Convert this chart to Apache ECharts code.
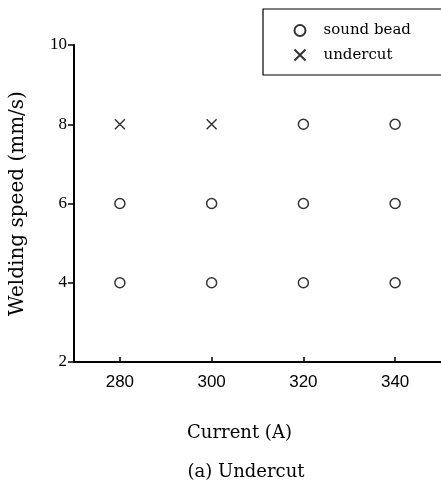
<!DOCTYPE html>
<html><head><meta charset="utf-8">
<script src="https://cdn.jsdelivr.net/npm/echarts@6/dist/echarts.min.js"></script>
<style>html,body{margin:0;padding:0;background:#fff}#c{width:441px;height:486px}</style>
</head><body><div id="c"></div>
<script>
const xTicks = [280, 300, 320, 340];
const yTicks = [2, 4, 6, 8, 10];
const soundBead = [[280,6],[280,4],[300,6],[300,4],[320,8],[320,6],[320,4],[340,8],[340,6],[340,4]];
const undercut = [[280,8],[300,8]];
const crossPath = 'path://M0,0L10,10M10,0L0,10';
const chart = echarts.init(document.getElementById('c'));
chart.setOption({
  backgroundColor: '#fff',
  animation: false,
  grid: {left: 74, right: 0, top: 45, bottom: 124, outerBoundsMode: 'none', containLabel: false},
  title: {text: '(a) Undercut', left: 241, textAlign: 'center', top: 458,
    textStyle: {fontFamily: 'DejaVu Serif', fontWeight: 'normal', fontSize: 18, color: '#000'}},
  legend: {
    orient: 'vertical', left: 263, top: 9,
    borderColor: '#000', borderWidth: 1.2, borderRadius: 0,
    padding: [14, 90, 12, 29], itemGap: 9, itemWidth: 11, itemHeight: 11,
    textStyle: {fontFamily: 'DejaVu Serif', fontSize: 15, color: '#000', padding: [0,0,0,13]},
    data: [{name: 'sound bead', icon: 'circle'}, {name: 'undercut', icon: crossPath}]
  },
  xAxis: {
    type: 'value', min: 270, max: 350, interval: 10,
    name: 'Current (A)', nameLocation: 'middle', nameGap: 62,
    nameTextStyle: {fontFamily: 'DejaVu Serif', fontSize: 18, color: '#000', padding: [0,36,0,0]},
    axisLine: {lineStyle: {color: '#000', width: 2}},
    axisTick: {show: true, inside: true, length: 5, customValues: xTicks, lineStyle: {color: '#000', width: 1.5}},
    axisLabel: {fontFamily: 'Liberation Sans', fontSize: 17, color: '#000', margin: 12, customValues: xTicks,
      formatter: v => String(v)},
    splitLine: {show: false}
  },
  yAxis: {
    type: 'value', min: 2, max: 10, interval: 2,
    name: 'Welding speed (mm/s)', nameLocation: 'middle', nameGap: 46, nameRotate: 90,
    nameTextStyle: {fontFamily: 'DejaVu Serif', fontSize: 20, color: '#000'},
    axisLine: {show: true, lineStyle: {color: '#000', width: 2}},
    axisTick: {show: true, inside: false, length: 6, lineStyle: {color: '#000', width: 1.5}},
    axisLabel: {fontFamily: 'Liberation Serif', fontSize: 17, color: '#000', margin: 7,
      formatter: v => yTicks.includes(v) ? String(v) : ''},
    splitLine: {show: false}
  },
  series: [
    {name: 'sound bead', type: 'scatter', data: soundBead, symbol: 'circle', symbolSize: 10,
      itemStyle: {color: '#fff', borderColor: '#000', borderWidth: 1.5}},
    {name: 'undercut', type: 'scatter', data: undercut, symbol: crossPath, symbolSize: 10,
      itemStyle: {color: 'none', borderColor: '#000', borderWidth: 1.5}}
  ]
});
</script></body></html>
